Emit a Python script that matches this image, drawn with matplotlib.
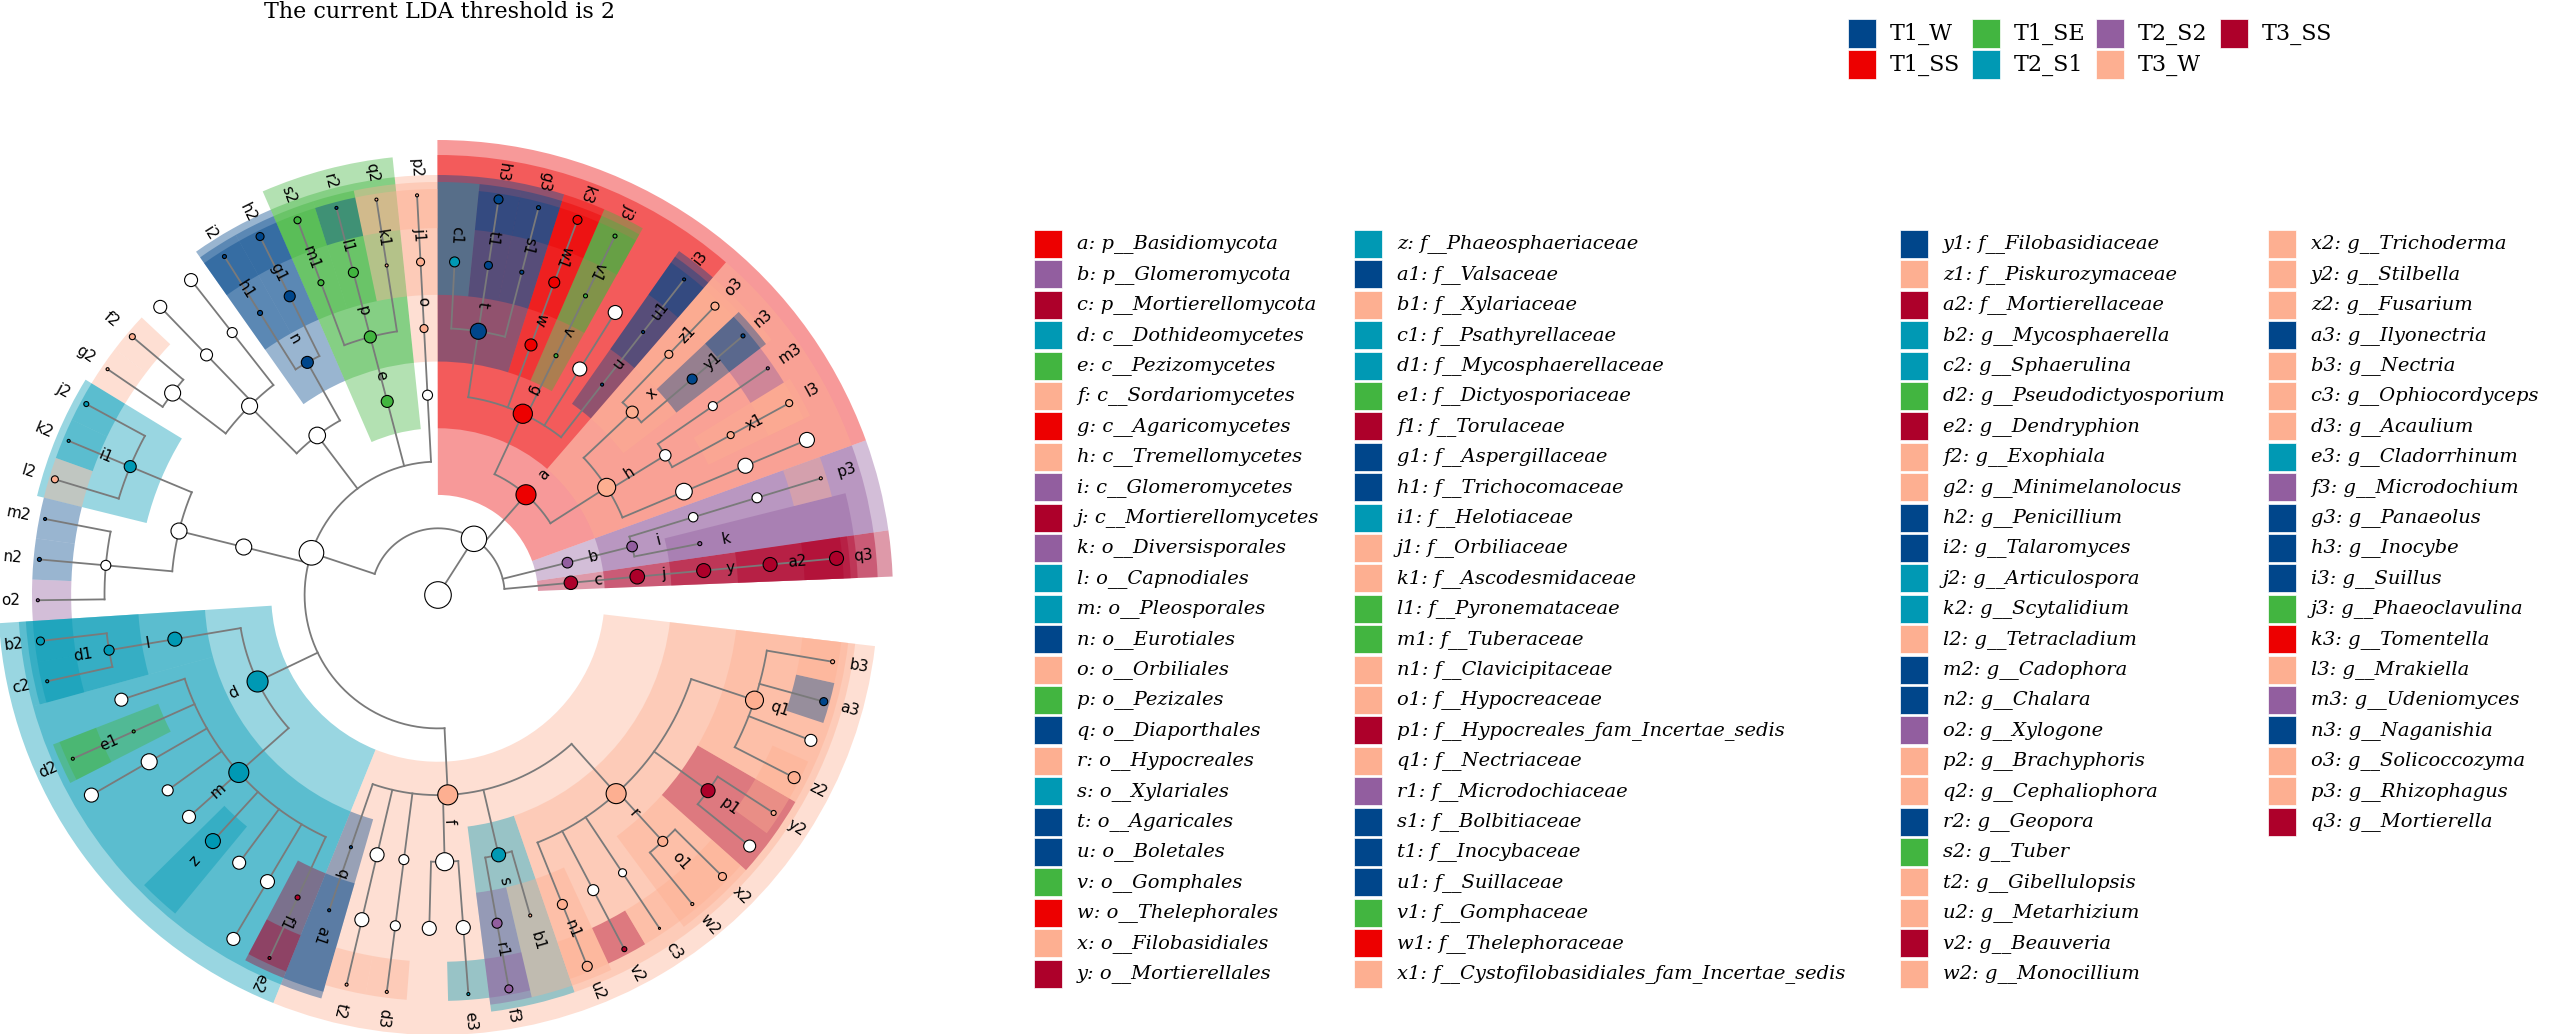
import numpy as np
import matplotlib.pyplot as plt
from matplotlib.patches import Rectangle

# groups of the LDA comparison
group_names = ['T1_W', 'T1_SS', 'T1_SE', 'T2_S1', 'T2_S2', 'T3_W', 'T3_SS']
group_colors = ['#00468B', '#ED0000', '#42B540', '#0099B4', '#925E9F', '#FDAF91', '#AD002A']

# significant clades (legend on the right)
clade_ids = ['a', 'b', 'c', 'd', 'e', 'f', 'g', 'h', 'i', 'j', 'k', 'l', 'm', 'n', 'o', 'p', 'q', 'r',
             's', 't', 'u', 'v', 'w', 'x', 'y',
             'z', 'a1', 'b1', 'c1', 'd1', 'e1', 'f1', 'g1', 'h1', 'i1', 'j1', 'k1', 'l1', 'm1', 'n1',
             'o1', 'p1', 'q1', 'r1', 's1', 't1', 'u1', 'v1', 'w1', 'x1',
             'y1', 'z1', 'a2', 'b2', 'c2', 'd2', 'e2', 'f2', 'g2', 'h2', 'i2', 'j2', 'k2', 'l2', 'm2',
             'n2', 'o2', 'p2', 'q2', 'r2', 's2', 't2', 'u2', 'v2', 'w2',
             'x2', 'y2', 'z2', 'a3', 'b3', 'c3', 'd3', 'e3', 'f3', 'g3', 'h3', 'i3', 'j3', 'k3', 'l3',
             'm3', 'n3', 'o3', 'p3', 'q3']
clade_names = ['p__Basidiomycota', 'p__Glomeromycota', 'p__Mortierellomycota', 'c__Dothideomycetes',
               'c__Pezizomycetes', 'c__Sordariomycetes', 'c__Agaricomycetes', 'c__Tremellomycetes',
               'c__Glomeromycetes', 'c__Mortierellomycetes', 'o__Diversisporales', 'o__Capnodiales',
               'o__Pleosporales', 'o__Eurotiales', 'o__Orbiliales', 'o__Pezizales', 'o__Diaporthales',
               'o__Hypocreales', 'o__Xylariales', 'o__Agaricales', 'o__Boletales', 'o__Gomphales',
               'o__Thelephorales', 'o__Filobasidiales', 'o__Mortierellales',
               'f__Phaeosphaeriaceae', 'f__Valsaceae', 'f__Xylariaceae', 'f__Psathyrellaceae',
               'f__Mycosphaerellaceae', 'f__Dictyosporiaceae', 'f__Torulaceae', 'f__Aspergillaceae',
               'f__Trichocomaceae', 'f__Helotiaceae', 'f__Orbiliaceae', 'f__Ascodesmidaceae',
               'f__Pyronemataceae', 'f__Tuberaceae', 'f__Clavicipitaceae', 'f__Hypocreaceae',
               'f__Hypocreales_fam_Incertae_sedis', 'f__Nectriaceae', 'f__Microdochiaceae',
               'f__Bolbitiaceae', 'f__Inocybaceae', 'f__Suillaceae', 'f__Gomphaceae',
               'f__Thelephoraceae', 'f__Cystofilobasidiales_fam_Incertae_sedis',
               'f__Filobasidiaceae', 'f__Piskurozymaceae', 'f__Mortierellaceae', 'g__Mycosphaerella',
               'g__Sphaerulina', 'g__Pseudodictyosporium', 'g__Dendryphion', 'g__Exophiala',
               'g__Minimelanolocus', 'g__Penicillium', 'g__Talaromyces', 'g__Articulospora',
               'g__Scytalidium', 'g__Tetracladium', 'g__Cadophora', 'g__Chalara', 'g__Xylogone',
               'g__Brachyphoris', 'g__Cephaliophora', 'g__Geopora', 'g__Tuber', 'g__Gibellulopsis',
               'g__Metarhizium', 'g__Beauveria', 'g__Monocillium',
               'g__Trichoderma', 'g__Stilbella', 'g__Fusarium', 'g__Ilyonectria', 'g__Nectria',
               'g__Ophiocordyceps', 'g__Acaulium', 'g__Cladorrhinum', 'g__Microdochium',
               'g__Panaeolus', 'g__Inocybe', 'g__Suillus', 'g__Phaeoclavulina', 'g__Tomentella',
               'g__Mrakiella', 'g__Udeniomyces', 'g__Naganishia', 'g__Solicoccozyma',
               'g__Rhizophagus', 'g__Mortierella']
clade_groups = ['T1_SS', 'T2_S2', 'T3_SS', 'T2_S1', 'T1_SE', 'T3_W', 'T1_SS', 'T3_W', 'T2_S2', 'T3_SS',
                'T2_S2', 'T2_S1', 'T2_S1', 'T1_W', 'T3_W', 'T1_SE', 'T1_W', 'T3_W', 'T2_S1', 'T1_W',
                'T1_W', 'T1_SE', 'T1_SS', 'T3_W', 'T3_SS',
                'T2_S1', 'T1_W', 'T3_W', 'T2_S1', 'T2_S1', 'T1_SE', 'T3_SS', 'T1_W', 'T1_W', 'T2_S1',
                'T3_W', 'T3_W', 'T1_SE', 'T1_SE', 'T3_W', 'T3_W', 'T3_SS', 'T3_W', 'T2_S2', 'T1_W',
                'T1_W', 'T1_W', 'T1_SE', 'T1_SS', 'T3_W',
                'T1_W', 'T3_W', 'T3_SS', 'T2_S1', 'T2_S1', 'T1_SE', 'T3_SS', 'T3_W', 'T3_W', 'T1_W',
                'T1_W', 'T2_S1', 'T2_S1', 'T3_W', 'T1_W', 'T1_W', 'T2_S2', 'T3_W', 'T3_W', 'T1_W',
                'T1_SE', 'T3_W', 'T3_W', 'T3_SS', 'T3_W',
                'T3_W', 'T3_W', 'T3_W', 'T1_W', 'T3_W', 'T3_W', 'T3_W', 'T2_S1', 'T2_S2', 'T1_W',
                'T1_W', 'T1_W', 'T1_SE', 'T1_SS', 'T3_W', 'T2_S2', 'T1_W', 'T3_W', 'T3_W', 'T3_SS']
legend_rows = [25, 25, 25, 20]

# taxonomy tree: (node, parent, relative abundance); children listed counter-clockwise
# nodes starting with "_" are not significant (white)
tree_nodes = [
    ('_K', 'root', 12.7),
    ('c', '_K', 6.7), ('j', 'c', 7.3), ('y', 'j', 7), ('a2', 'y', 7), ('q3', 'a2', 7),
    ('b', '_K', 5.3), ('i', 'b', 5.3), ('k', 'i', 2), ('_go', 'i', 4.7), ('_gf', '_go', 5),
    ('p3', '_gf', 1.5),
    ('a', '_K', 10), ('h', 'a', 9),
    ('_ho1', 'h', 8.3), ('_hf1', '_ho1', 7.5), ('_hg1', '_hf1', 7.5),
    ('_ho2', 'h', 5.7), ('x1', '_ho2', 3.5), ('l3', 'x1', 3.5), ('_hf2', '_ho2', 4.5), ('m3', '_hf2', 1.5),
    ('x', 'h', 6), ('y1', 'x', 5), ('n3', 'y1', 2), ('z1', 'x', 4), ('o3', 'z1', 4),
    ('g', 'a', 9.6), ('u', 'g', 1.5), ('u1', 'u', 1.5), ('i3', 'u1', 1.5),
    ('_ago', 'g', 7), ('_agf', '_ago', 7),
    ('v', 'g', 2), ('v1', 'v', 2), ('j3', 'v1', 2),
    ('w', 'g', 6), ('w1', 'w', 5.5), ('k3', 'w1', 4.5),
    ('t', 'g', 8), ('s1', 't', 2), ('g3', 's1', 2), ('t1', 't', 4), ('h3', 't1', 4.5), ('c1', 't', 5),
    ('_A', '_K', 12.3),
    ('_orb', '_A', 5), ('o', '_orb', 4), ('j1', 'o', 4), ('p2', 'j1', 1.5),
    ('e', '_A', 6), ('p', 'e', 6), ('k1', 'p', 1.5), ('q2', 'k1', 1.5), ('l1', 'p', 5),
    ('r2', 'l1', 1.5), ('m1', 'p', 3), ('s2', 'm1', 3.5),
    ('_eur', '_A', 8.3), ('n', '_eur', 6), ('g1', 'n', 5.5), ('h2', 'g1', 4), ('h1', 'n', 2.5),
    ('i2', 'h1', 2),
    ('_cha', '_eur', 8), ('_cf1', '_cha', 5), ('_cg1', '_cf1', 6.5), ('_cf2', '_cha', 6),
    ('_cg2', '_cf2', 6.5), ('_cf3', '_cha', 8), ('f2', '_cf3', 3), ('g2', '_cf3', 1.5),
    ('_leo', '_A', 8), ('_hel', '_leo', 8), ('i1', '_hel', 6), ('j2', 'i1', 2.5), ('k2', 'i1', 1.5),
    ('l2', 'i1', 3.5), ('_lf', '_hel', 5), ('m2', '_lf', 1.5), ('n2', '_lf', 2), ('o2', '_lf', 1.5),
    ('d', '_A', 10.5), ('l', 'd', 7), ('d1', 'l', 5), ('b2', 'd1', 4), ('c2', 'd1', 1.5),
    ('m', 'd', 10), ('_mf1', 'm', 6.5), ('e1', 'm', 1.5), ('d2', 'e1', 1.5), ('_mf2', 'm', 8),
    ('_mg2', '_mf2', 7), ('_mf3', 'm', 5.5), ('_mf4', 'm', 6.5), ('z', 'm', 7.5), ('_mf5', 'm', 6.5),
    ('_mf6', 'm', 7), ('_mg6', '_mf6', 6.5), ('f1', 'm', 2.5), ('e2', 'f1', 1.5),
    ('f', '_A', 10), ('q', 'f', 1.5), ('a1', 'q', 1.5),
    ('_fo1', 'f', 7), ('_ff1', '_fo1', 7), ('t2', '_ff1', 1.5),
    ('_fo2', 'f', 5), ('_ff2', '_fo2', 5), ('d3', '_ff2', 1.5),
    ('_fo3', 'f', 9), ('_ff3', '_fo3', 7), ('_ff4', '_fo3', 7), ('e3', '_ff4', 1.5),
    ('s', 'f', 7), ('r1', 's', 5), ('f3', 'r1', 4), ('b1', 's', 1.5),
    ('r', 'f', 10), ('n1', 'r', 5), ('u2', 'n1', 5), ('_rf1', 'r', 5.5), ('v2', '_rf1', 2.5),
    ('_rf2', 'r', 4), ('c3', '_rf2', 1), ('o1', 'r', 5), ('w2', 'o1', 1.5), ('x2', 'o1', 4),
    ('p1', 'r', 7), ('_pg', 'p1', 6), ('y2', 'p1', 2.5),
    ('q1', 'r', 9), ('z2', 'q1', 6), ('_qg', 'q1', 6), ('a3', 'q1', 4), ('b3', 'q1', 2),
]
root_abund = 13.3

# ---- layout ----
LEAF_START = 5.25
LEAF_STEP = 5.85
LEVEL_R = 66.7
OUTER = {2: 455, 3: 440, 4: 420, 5: 413, 6: 406}
ALPHA = 0.4

col_of = {g: c for g, c in zip(group_names, group_colors)}
clade_col = {k: col_of[g] for k, g in zip(clade_ids, clade_groups)}

children = {}
abund = {'root': root_abund}
for key, parent, ab in tree_nodes:
    children.setdefault(parent, []).append(key)
    abund[key] = ab

theta, depth, span = {}, {}, {}
leaf_no = [0]


def place(key, lev):
    depth[key] = lev
    ch = children.get(key, [])
    if not ch:
        t = LEAF_START + leaf_no[0] * LEAF_STEP
        leaf_no[0] += 1
        theta[key] = t
        span[key] = (t, t)
        return
    for c in ch:
        place(c, lev + 1)
    theta[key] = np.mean([theta[c] for c in ch])
    span[key] = (min(span[c][0] for c in ch), max(span[c][1] for c in ch))


place('root', 0)
rad = {k: depth[k] * LEVEL_R for k in depth}

fig = plt.figure(figsize=(25.59, 10.34), dpi=100)
W, H = 2559.0, 1034.0
cx, cy, RL = 438.0, 595.0, 470.0
ax = fig.add_axes([(cx - RL) / W, (H - cy - RL) / H, 2 * RL / W, 2 * RL / H], projection='polar')
ax.set_ylim(0, RL)
ax.set_axis_off()

# highlighted clades
order = sorted([k for k in depth if k in clade_col], key=lambda k: depth[k])
for k in order:
    t0 = span[k][0] - LEAF_STEP / 2
    t1 = span[k][1] + LEAF_STEP / 2
    bottom = rad[k] - LEVEL_R / 2
    ax.bar(np.radians((t0 + t1) / 2), OUTER[depth[k]] - bottom, width=np.radians(t1 - t0),
           bottom=bottom, color=clade_col[k], alpha=ALPHA, linewidth=0, zorder=1)

# branches
line_col = '#7a7a7a'
for k, ch in children.items():
    r0 = rad[k]
    ts = [theta[c] for c in ch]
    if r0 > 0 and len(ch) > 1:
        aa = np.linspace(min(ts), max(ts), 200)
        ax.plot(np.radians(aa), np.full_like(aa, r0), color=line_col, lw=1.3, zorder=2)
    for c in ch:
        ax.plot([np.radians(theta[c])] * 2, [r0, rad[c]], color=line_col, lw=1.3, zorder=2)

# nodes
keys = list(depth.keys())
th = np.radians([theta.get(k, 0) for k in keys])
rr = [rad[k] for k in keys]
sz = [(2 * abund[k] * 0.72) ** 2 for k in keys]
fc = [clade_col.get(k, 'white') for k in keys]
ax.scatter(th, rr, s=sz, c=fc, edgecolors='black', linewidths=0.8, zorder=5)

# clade letters
for k in keys:
    if k not in clade_col:
        continue
    d = theta[k] % 360
    rot = d - 180 if 58 < d < 230 else d
    if rot > 180:
        rot -= 360
    ax.text(np.radians(theta[k]), rad[k] + 27, k, rotation=rot, rotation_mode='anchor',
            ha='center', va='center', fontsize=11, family='DejaVu Sans', zorder=6)

# title
fig.text(440 / W, 1 - 1 / H, 'The current LDA threshold is 2', ha='center', va='top',
         fontsize=16, family='DejaVu Serif')


def box(px, py, w, h, color):
    fig.add_artist(Rectangle((px / W, 1 - (py + h) / H), w / W, h / H, transform=fig.transFigure,
                             facecolor=color, edgecolor='white', linewidth=0.5))


# group legend
for i, (g, c) in enumerate(zip(group_names, group_colors)):
    x0 = 1848 + (i // 2) * 124
    y0 = 19 + (i % 2) * 31
    box(x0, y0, 28, 29, c)
    fig.text((x0 + 42) / W, 1 - (y0 + 15) / H, g, ha='left', va='center', fontsize=16,
             family='DejaVu Serif')

# clade legend
col_x = [1034, 1354, 1900, 2268]
n = 0
for ci, nrow in enumerate(legend_rows):
    for ri in range(nrow):
        y0 = 230 + ri * 30.4
        box(col_x[ci], y0, 28, 28, clade_col[clade_ids[n]])
        fig.text((col_x[ci] + 43) / W, 1 - (y0 + 14) / H, clade_ids[n] + ': ' + clade_names[n],
                 ha='left', va='center', fontsize=14, family='DejaVu Serif', style='italic')
        n += 1

fig.savefig('out.png', dpi=100)
